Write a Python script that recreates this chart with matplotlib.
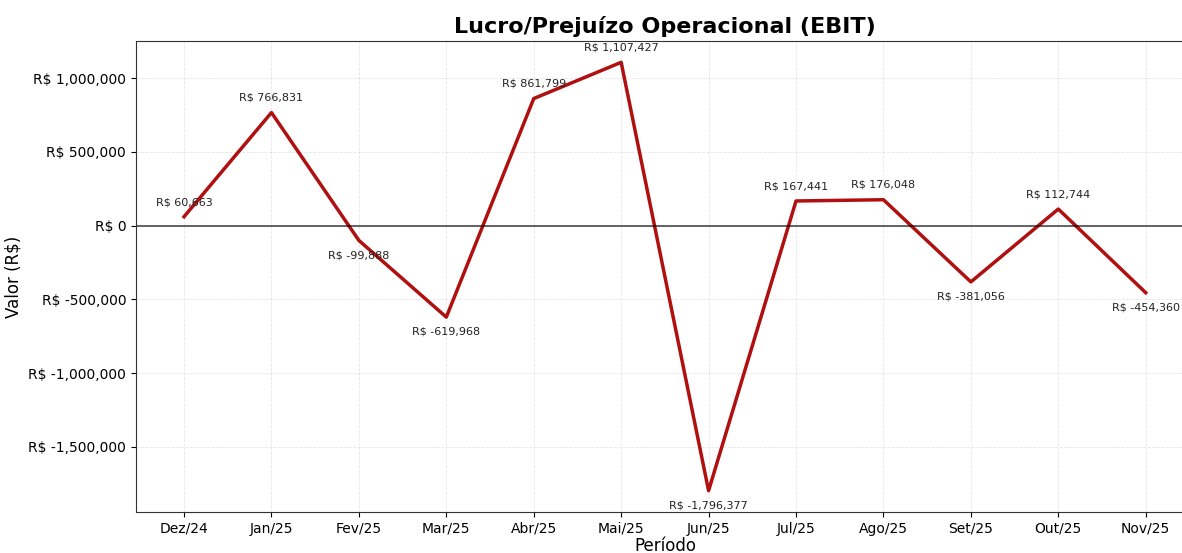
import matplotlib
matplotlib.use("Agg")
import matplotlib.pyplot as plt
from matplotlib.ticker import FuncFormatter

periods = ["Dez/24", "Jan/25", "Fev/25", "Mar/25", "Abr/25", "Mai/25",
           "Jun/25", "Jul/25", "Ago/25", "Set/25", "Out/25", "Nov/25"]
ebit = [60663, 766831, -99888, -619968, 861799, 1107427,
        -1796377, 167441, 176048, -381056, 112744, -454360]

fig = plt.figure(figsize=(11.82, 5.53), dpi=100)
ax = fig.add_axes([0.115, 0.074, 0.895, 0.852])

x = list(range(len(periods)))
ax.plot(x, ebit, color="#b01010", linewidth=2.5)
ax.axhline(0, color="black", linewidth=1.2, alpha=0.7)

for xi, v in zip(x, ebit):
    off = 7 if v >= 0 else -7
    ax.annotate(f"R$ {v:,.0f}", (xi, v), textcoords="offset points",
                xytext=(0, off), ha="center",
                va="bottom" if v >= 0 else "top", fontsize=8, color="#222222")

ax.set_xticks(x)
ax.set_xticklabels(periods, fontsize=10)
ax.yaxis.set_major_formatter(FuncFormatter(lambda v, p: f"R$ {v:,.0f}"))
ax.tick_params(axis="y", labelsize=10)
ax.grid(True, alpha=0.3, linestyle="--", linewidth=0.6)
for s in ax.spines.values():
    s.set_color("#333333")
ax.set_title("Lucro/Prejuízo Operacional (EBIT)", fontsize=16, fontweight="bold")
ax.set_xlabel("Período", fontsize=12, labelpad=1)
ax.set_ylabel("Valor (R$)", fontsize=12)

fig.savefig("out.png", dpi=100)
